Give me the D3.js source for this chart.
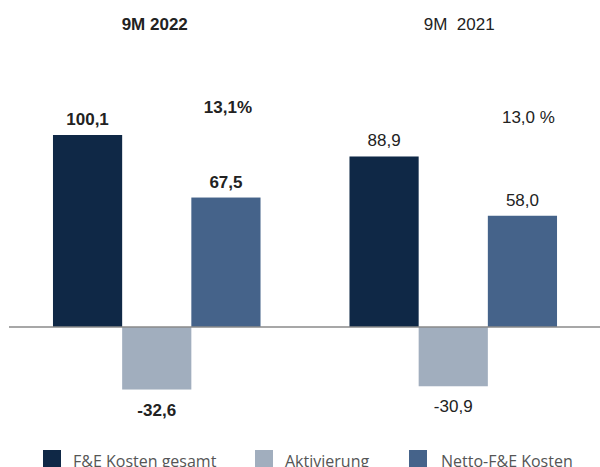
<!DOCTYPE html>
<html>
<head>
<meta charset="utf-8">
<script src="https://cdn.jsdelivr.net/npm/d3@7"></script>
<style>
  body { margin: 0; background: #fff; }
  svg { display: block; }
</style>
</head>
<body>
<svg id="chart" width="600" height="467"></svg>
<script>
'use strict';

// data
const periods = ['9M 2022', '9M  2021'];
const series = ['F&E Kosten gesamt', 'Aktivierung', 'Netto-F&E Kosten'];
const valuesF = [100.1, 88.9];
const valuesAkt = [-32.6, -30.9];
const valuesNetto = [67.5, 58.0];
const ratioLabels = ['13,1%', '13,0 %'];
const boldPeriod = [true, false];

const colors = ['#0f2846', '#a1aebe', '#45638a'];
const font = '"Liberation Sans", Arial, sans-serif';

const svg = d3.select('#chart');
const width = 600, height = 467;

// german decimal comma, plain hyphen for negatives
const fmt = v => v.toFixed(1).replace('.', ',');

// scales
const x0 = d3.scaleBand().domain(periods).range([8.5, 601.5])
  .paddingInner(0.3).paddingOuter(0.15);
const x1 = d3.scaleBand().domain(series).range([0, x0.bandwidth()]);
const y = d3.scaleLinear().domain([0, 100]).range([327, 135.2]);

const rows = periods.map((p, i) => ({
  period: p,
  bold: boldPeriod[i],
  ratio: ratioLabels[i],
  vals: [valuesF[i], valuesAkt[i], valuesNetto[i]]
}));

// bars
const groups = svg.selectAll('g.group')
  .data(rows)
  .join('g')
  .attr('class', 'group')
  .attr('transform', d => `translate(${x0(d.period)},0)`);

groups.selectAll('rect')
  .data(d => d.vals.map((v, j) => ({key: series[j], v, bold: d.bold, j})))
  .join('rect')
  .attr('x', d => x1(d.key))
  .attr('width', x1.bandwidth())
  .attr('y', d => y(Math.max(0, d.v)))
  .attr('height', d => Math.abs(y(d.v) - y(0)))
  .attr('fill', d => colors[d.j]);

// value labels
groups.selectAll('text.val')
  .data(d => d.vals.map((v, j) => ({key: series[j], v, bold: d.bold})))
  .join('text')
  .attr('class', 'val')
  .attr('x', d => x1(d.key) + x1.bandwidth() / 2)
  .attr('y', d => d.v >= 0 ? y(d.v) - 10 : y(d.v) + 26)
  .attr('text-anchor', 'middle')
  .attr('font-family', font)
  .attr('font-size', 17)
  .attr('font-weight', d => d.bold ? 'bold' : 'normal')
  .attr('fill', '#222')
  .text(d => fmt(d.v));

// ratio labels
groups.append('text')
  .attr('x', d => x1(series[2]) + x1.bandwidth() / 2 + (d.bold ? 2 : 6))
  .attr('y', d => d.bold ? 113 : 123)
  .attr('text-anchor', 'middle')
  .attr('font-family', font)
  .attr('font-size', 17)
  .attr('font-weight', d => d.bold ? 'bold' : 'normal')
  .attr('fill', '#222')
  .text(d => d.ratio);

// period titles
groups.append('text')
  .attr('x', d => x0.bandwidth() / 2 - (d.bold ? 2 : -6))
  .attr('y', 30)
  .attr('text-anchor', 'middle')
  .attr('font-family', font)
  .attr('font-size', 17)
  .attr('font-weight', d => d.bold ? 'bold' : 'normal')
  .attr('fill', '#222')
  .style('white-space', 'pre')
  .text(d => d.period);

// zero line
svg.append('line')
  .attr('x1', 9).attr('x2', width)
  .attr('y1', y(0)).attr('y2', y(0))
  .attr('stroke', '#8a8a8a')
  .attr('stroke-width', 1.5);

// legend (sits on the bottom edge, partly cut off like the original)
const legendX = [43, 255, 409];
const legend = svg.selectAll('g.legend')
  .data(series)
  .join('g')
  .attr('class', 'legend')
  .attr('transform', (d, i) => `translate(${legendX[i]},450)`);

legend.append('rect')
  .attr('width', 18).attr('height', 17)
  .attr('fill', (d, i) => colors[i]);

legend.append('text')
  .attr('x', (d, i) => i === 2 ? 32 : 30).attr('y', 16.5)
  .attr('font-family', '"Open Sans", sans-serif')
  .attr('font-size', 16)
  .attr('fill', '#555')
  .text(d => d);
</script>
</body>
</html>
